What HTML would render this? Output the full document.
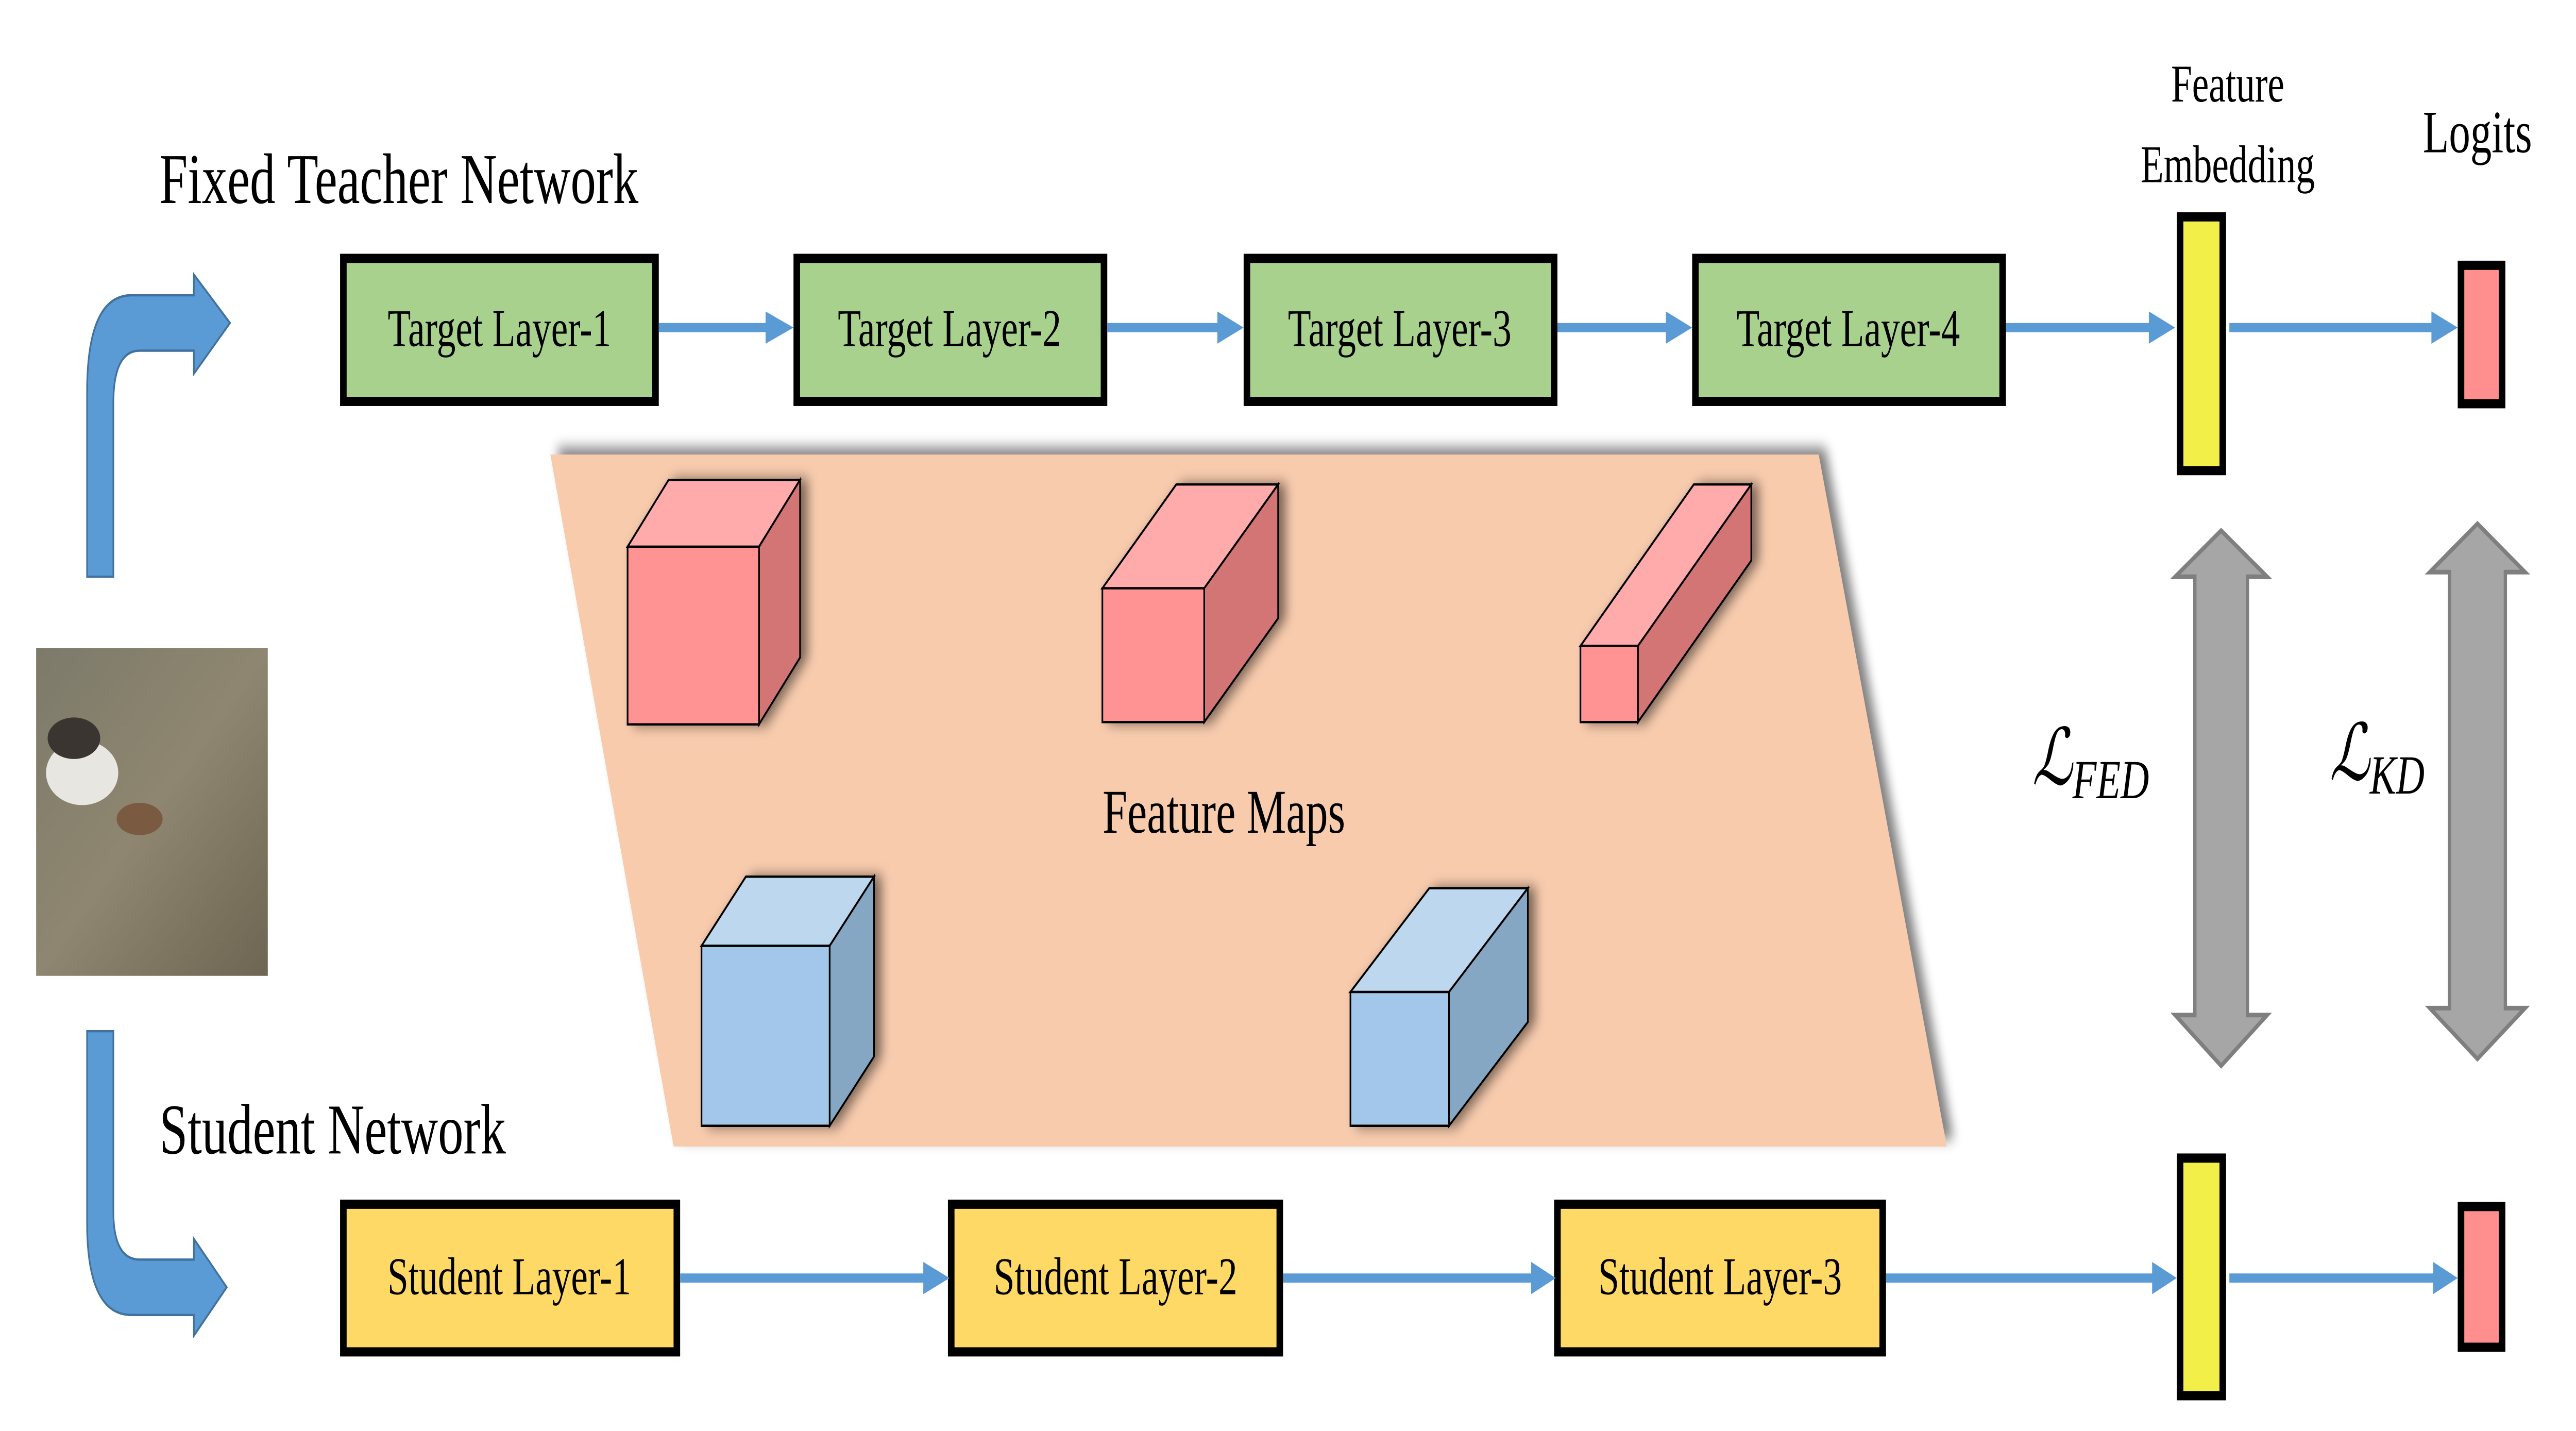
<!DOCTYPE html>
<html><head><meta charset="utf-8"><style>
html,body{margin:0;padding:0;background:#fff;width:100%;height:100%;overflow:hidden;}
svg{display:block;position:fixed;left:0;top:0;width:100vw;height:100vh;}
text{font-family:"Liberation Serif",serif;fill:#000;}
</style></head><body>
<svg viewBox="0 0 1568 620.3" preserveAspectRatio="none" xmlns="http://www.w3.org/2000/svg">
<defs>
<filter id="sh" x="-10%" y="-10%" width="130%" height="130%"><feGaussianBlur in="SourceAlpha" stdDeviation="3"/><feOffset dx="4" dy="-3"/><feComponentTransfer><feFuncA type="linear" slope="0.5"/></feComponentTransfer><feMerge><feMergeNode/><feMergeNode in="SourceGraphic"/></feMerge></filter>
<filter id="sh2" x="-20%" y="-20%" width="150%" height="150%"><feGaussianBlur in="SourceAlpha" stdDeviation="3"/><feOffset dx="4" dy="0"/><feComponentTransfer><feFuncA type="linear" slope="0.5"/></feComponentTransfer><feMerge><feMergeNode/><feMergeNode in="SourceGraphic"/></feMerge></filter>
<linearGradient id="img" x1="0" y1="0" x2="1" y2="1"><stop offset="0" stop-color="#7d7a6a"/><stop offset="0.5" stop-color="#8e8670"/><stop offset="1" stop-color="#6e6552"/></linearGradient>
</defs>
<path d="M53,250 L53,170 Q53,128 80,128 L118,128 L118,119 L140,140 L118,162 L118,152 L85,152 Q69,152 69,175 L69,250 Z" fill="#5b9bd5" stroke="#41719c" stroke-width="1"/>
<path d="M53,447 L53,530 Q53,570 80,570 L118,570 L118,579 L138,558 L118,537 L118,546 L85,546 Q69,546 69,525 L69,447 Z" fill="#5b9bd5" stroke="#41719c" stroke-width="1"/>

<text x="97" y="88" font-size="31">Fixed Teacher Network</text>
<text x="97" y="500" font-size="31">Student Network</text>

<rect x="22" y="281" width="141" height="142" fill="url(#img)"/>
<ellipse cx="50" cy="335" rx="22" ry="14" fill="#e8e6e0"/>
<ellipse cx="45" cy="320" rx="16" ry="9" fill="#3a3530"/>
<ellipse cx="85" cy="355" rx="14" ry="7" fill="#7a5a40"/>

<polygon points="335,197 1107,197 1185,497 410,497" fill="#f8cbad" filter="url(#sh)"/>

<g stroke="#000" stroke-width="4" fill="#a9d18e">
<rect x="209" y="112" width="190" height="62"/>
<rect x="485" y="112" width="187" height="62"/>
<rect x="759" y="112" width="187" height="62"/>
<rect x="1032" y="112" width="187" height="62"/>
</g>
<g font-size="23" text-anchor="middle">
<text x="304" y="150">Target Layer-1</text>
<text x="578" y="150">Target Layer-2</text>
<text x="852" y="150">Target Layer-3</text>
<text x="1125" y="150">Target Layer-4</text>
</g>
<g stroke="#000" stroke-width="4" fill="#ffd966">
<rect x="209" y="522" width="203" height="64"/>
<rect x="579" y="522" width="200" height="64"/>
<rect x="948" y="522" width="198" height="64"/>
</g>
<g font-size="23" text-anchor="middle">
<text x="310" y="561">Student Layer-1</text>
<text x="679" y="561">Student Layer-2</text>
<text x="1047" y="561">Student Layer-3</text>
</g>

<g stroke="#5b9bd5" stroke-width="4">
<line x1="401" y1="142" x2="470" y2="142"/>
<line x1="674" y1="142" x2="745" y2="142"/>
<line x1="948" y1="142" x2="1018" y2="142"/>
<line x1="1221" y1="142" x2="1312" y2="142"/>
<line x1="1357" y1="142" x2="1484" y2="142"/>
<line x1="414" y1="554" x2="566" y2="554"/>
<line x1="781" y1="554" x2="936" y2="554"/>
<line x1="1148" y1="554" x2="1312" y2="554"/>
<line x1="1357" y1="554" x2="1484" y2="554"/>
</g>
<g fill="#5b9bd5">
<polygon points="466,135 483,142 466,149"/>
<polygon points="741,135 757,142 741,149"/>
<polygon points="1014,135 1030,142 1014,149"/>
<polygon points="1308,135 1324,142 1308,149"/>
<polygon points="1480,135 1496,142 1480,149"/>
<polygon points="562,547 578,554 562,561"/>
<polygon points="932,547 947,554 932,561"/>
<polygon points="1310,547 1325,554 1310,561"/>
<polygon points="1481,547 1496,554 1481,561"/>
</g>

<g stroke="#000" stroke-width="4">
<rect x="1327" y="94" width="26" height="110" fill="#f2ef48"/>
<rect x="1327" y="502" width="26" height="103" fill="#f2ef48"/>
<rect x="1498" y="115" width="25" height="60" fill="#ff8f8f"/>
<rect x="1498" y="523" width="25" height="61" fill="#ff8f8f"/>
</g>
<g font-size="23" text-anchor="middle">
<text x="1356" y="44">Feature</text>
<text x="1356" y="79">Embedding</text>
<text x="1508" y="66" font-size="26">Logits</text>
</g>

<g fill="#a6a6a6" stroke="#7f7f7f" stroke-width="2">
<polygon points="1352,230 1380,250 1368,250 1368,440 1380,440 1352,462 1324,440 1336,440 1336,250 1324,250"/>
<polygon points="1508,227 1537,248 1525,248 1525,437 1537,437 1508,459 1479,437 1491,437 1491,248 1479,248"/>
</g>
<text x="1237" y="340" font-size="34" font-style="italic">ℒ<tspan font-size="24" dy="6">FED</tspan></text>
<text x="1418" y="338" font-size="34" font-style="italic">ℒ<tspan font-size="24" dy="6">KD</tspan></text>

<g stroke="#000" stroke-width="1" filter="url(#sh2)">
<polygon points="382,237 407,208 487,208 462,237" fill="#ffabab"/>
<polygon points="462,237 487,208 487,285 462,314" fill="#d47575"/>
<rect x="382" y="237" width="80" height="77" fill="#ff9393"/>
</g>
<g stroke="#000" stroke-width="1" filter="url(#sh2)">
<polygon points="671,255 716,210 778,210 733,255" fill="#ffabab"/>
<polygon points="733,255 778,210 778,268 733,313" fill="#d47575"/>
<rect x="671" y="255" width="62" height="58" fill="#ff9393"/>
</g>
<g stroke="#000" stroke-width="1" filter="url(#sh2)">
<polygon points="962,280 1031,210 1066,210 997,280" fill="#ffabab"/>
<polygon points="997,280 1066,210 1066,243 997,313" fill="#d47575"/>
<rect x="962" y="280" width="35" height="33" fill="#ff9393"/>
</g>
<g stroke="#000" stroke-width="1" filter="url(#sh2)">
<polygon points="427,410 454,380 532,380 505,410" fill="#bdd7ee"/>
<polygon points="505,410 532,380 532,458 505,488" fill="#86a7c4"/>
<rect x="427" y="410" width="78" height="78" fill="#a3c7ea"/>
</g>
<g stroke="#000" stroke-width="1" filter="url(#sh2)">
<polygon points="822,430 870,385 930,385 882,430" fill="#bdd7ee"/>
<polygon points="882,430 930,385 930,443 882,488" fill="#86a7c4"/>
<rect x="822" y="430" width="60" height="58" fill="#a3c7ea"/>
</g>
<text x="745" y="361" font-size="27" text-anchor="middle">Feature Maps</text>
</svg>
</body></html>
